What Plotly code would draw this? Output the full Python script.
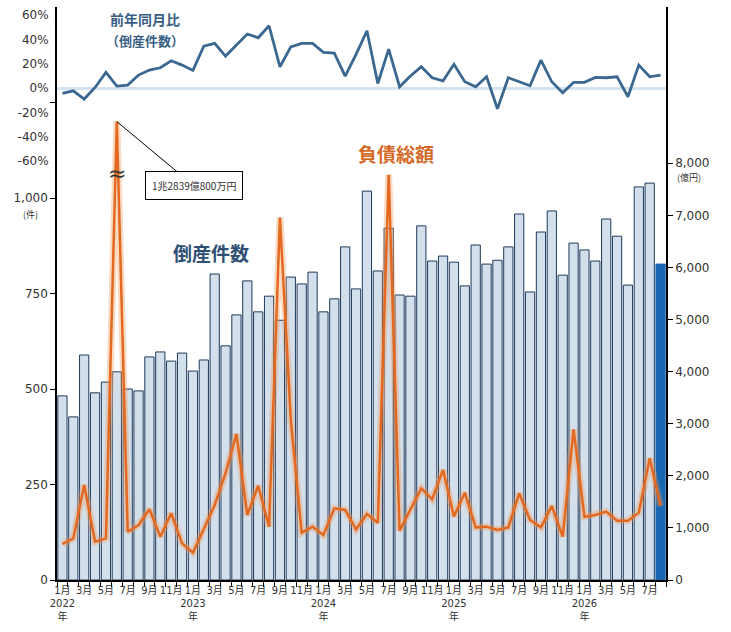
import plotly.graph_objects as go

# 倒産件数（件） 2022年1月〜2026年8月
counts = [482, 427, 589, 490, 518, 545, 500, 495, 584, 597, 573, 594,
          547, 576, 801, 613, 694, 783, 702, 743, 680, 793, 775, 806,
          702, 736, 872, 762, 1018, 809, 921, 746, 743, 927, 835, 848,
          832, 770, 877, 827, 837, 872, 958, 754, 911, 966, 798, 882,
          864, 835, 945, 900, 772, 1029, 1039, 827]

# 前年同月比（倒産件数, %）
yoy = [-4.4, -2.2, -9.0, 0.5, 12.9, 1.6, 2.5, 10.7, 14.8, 16.7, 22.4, 18.9,
       14.5, 34.5, 36.7, 26.3, 35.3, 44.4, 41.3, 51.2, 17.5, 33.9, 36.7, 36.7,
       29.3, 28.8, 9.9, 27.7, 47.1, 3.8, 32.0, 1.1, 9.9, 17.5, 8.5, 6.0,
       19.5, 5.2, 1.1, 9.3, -17.0, 8.5, 5.2, 1.9, 23.0, 5.2, -3.8, 4.7,
       4.7, 8.8, 8.5, 9.3, -7.1, 18.9, 9.3, 10.7]

# 負債総額（億円）
debt = [691, 800, 1823, 735, 800, 12839.08, 927, 1056, 1357, 832, 1280, 704,
        525, 992, 1440, 2050, 2802, 1248, 1810, 1024, 6960, 3070, 908, 1024,
        864, 1376, 1344, 973, 1267, 1100, 7780, 947, 1344, 1760, 1549, 2111,
        1220, 1676, 1011, 1024, 960, 1011, 1664, 1152, 1011, 1420, 832, 2892,
        1215, 1248, 1312, 1139, 1139, 1293, 2335, 1420]

years = [2022, 2023, 2024, 2025, 2026]
last_month = 8

BREAK_CAP = 8800      # これを超える月は波線で省略して描く
BREAK_MARK_Y = 7800   # 波線の位置（億円軸）

months = []
tick_text = []
for y in years:
    for m in range(1, 13):
        if y == years[-1] and m > last_month:
            break
        months.append(f"{y}-{m:02d}")
        if m == 1:
            tick_text.append(f"{m}月<br>{y}<br>年")
        elif m % 2 == 1:
            tick_text.append(f"{m}月")
        else:
            tick_text.append("")

debt_plot = [min(v, BREAK_CAP) for v in debt]
bar_colors = ["#d3dfeb"] * (len(counts) - 1) + ["#1767b3"]
bar_lines = ["#1e3a5c"] * (len(counts) - 1) + ["#1767b3"]

FONT = "DejaVu Sans, Noto Sans CJK JP"
JP = "Noto Sans CJK JP"

fig = go.Figure()

fig.add_trace(go.Bar(
    x=months, y=counts, yaxis="y",
    marker=dict(color=bar_colors, line=dict(color=bar_lines, width=1)),
    showlegend=False,
))

# 負債総額: うすいにじみ + 本線
fig.add_trace(go.Scatter(
    x=months, y=debt_plot, yaxis="y2", mode="lines",
    line=dict(color="rgba(245,150,80,0.35)", width=7),
    showlegend=False, hoverinfo="skip",
))
fig.add_trace(go.Scatter(
    x=months, y=debt_plot, yaxis="y2", mode="lines",
    line=dict(color="#e2691f", width=2.5),
    customdata=debt, hovertemplate="%{customdata:,}億円<extra></extra>",
    showlegend=False,
))

fig.add_trace(go.Scatter(
    x=months, y=yoy, yaxis="y3", mode="lines",
    line=dict(color="#3b6891", width=2.8),
    showlegend=False,
))

fig.update_layout(
    width=731, height=632,
    margin=dict(l=57, r=65, t=7, b=52),
    plot_bgcolor="white", paper_bgcolor="white",
    font=dict(family=FONT, size=11, color="#333"),
    bargap=0.15,
    xaxis=dict(
        type="category", range=[-0.5, len(months) - 0.5],
        tickmode="array", tickvals=months, ticktext=tick_text,
        tickson="boundaries", ticks="outside", ticklen=5, tickcolor="black",
        showline=True, linecolor="black", linewidth=1.5,
        showgrid=False, tickangle=0, automargin=False,
        tickfont=dict(size=10, color="#333"),
    ),
    yaxis=dict(
        range=[0, 1500],
        tickmode="array", tickvals=[0, 250, 500, 750, 1000, 1250],
        ticktext=["0", "250", "500", "750", "1,000", ""],
        ticks="outside", ticklen=5, tickcolor="black",
        showline=True, linecolor="black", linewidth=1.5,
        showgrid=False, zeroline=False, automargin=False,
        tickfont=dict(size=12, color="#333"),
    ),
    yaxis2=dict(
        overlaying="y", side="right", range=[0, 11000],
        tickmode="array", tickvals=[0, 1000, 2000, 3000, 4000, 5000, 6000, 7000, 8000],
        ticktext=["0", "1,000", "2,000", "3,000", "4,000", "5,000", "6,000", "7,000", "8,000"],
        ticks="outside", ticklen=5, tickcolor="black",
        showline=True, linecolor="black", linewidth=1.5,
        showgrid=False, zeroline=False, automargin=False,
        tickfont=dict(size=12, color="#333"),
    ),
    yaxis3=dict(
        overlaying="y", side="left", range=[-404, 66.6],
        tickmode="array", tickvals=[60, 40, 20, 0, -20, -40, -60],
        ticktext=["60%", "40%", "20%", "0%", "-20%", "-40%", "-60%"],
        ticks="outside", ticklen=5, tickcolor="rgba(0,0,0,0)",
        showline=False, showgrid=False, automargin=False,
        zeroline=True, zerolinecolor="#d5e3f0", zerolinewidth=2.5,
        tickfont=dict(size=12, color="#333"),
    ),
)

def label(x, y, text, size, color, bold=False):
    if bold:
        text = f"<b>{text}</b>"
    fig.add_annotation(xref="paper", yref="paper", x=x, y=y, text=text,
                       xanchor="center", yanchor="middle", showarrow=False,
                       font=dict(family=JP, size=size, color=color))

label(0.1445, 0.979, "前年同月比", 14, "#3a5f85", bold=True)
label(0.1445, 0.941, "（倒産件数）", 13, "#3a5f85", bold=True)
label(0.557, 0.745, "負債総額", 19, "#d56a28", bold=True)
label(0.253, 0.571, "倒産件数", 19, "#2f4f75", bold=True)
label(-0.044, 0.638, "(件)", 9, "#333")
label(1.038, 0.703, "(億円)", 9, "#333")

# 軸を超えた月の注記と波線
fig.add_annotation(xref="x", yref="y2", x=months[5], y=debt_plot[5],
                   text="1兆2839億800万円", showarrow=True, arrowhead=0,
                   arrowwidth=1, arrowcolor="black", ax=77, ay=64,
                   bordercolor="black", borderwidth=1, borderpad=6,
                   bgcolor="white",
                   font=dict(family=JP, size=10, color="#333"))
fig.add_annotation(xref="x", yref="y2", x=months[5], y=BREAK_MARK_Y,
                   text="≈", showarrow=False,
                   font=dict(family=FONT, size=22, color="#333"))

# ページ既定の余白をなくして左上に合わせる
fig.write_html("out.html", config={"displayModeBar": False},
               post_script="document.body.style.margin='0';")
